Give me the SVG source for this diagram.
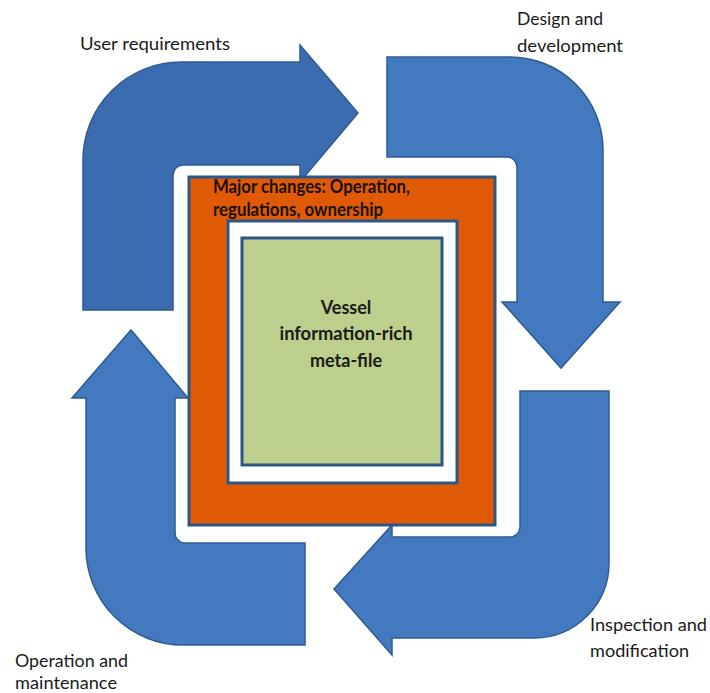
<svg xmlns="http://www.w3.org/2000/svg" width="710" height="693" viewBox="0 0 710 693">
  <style>
    .arrow { fill: #4279bf; stroke: #2f5b92; stroke-width: 1.5; stroke-linejoin: miter; }
    .arrow.dark { fill: #3b6cb0; }
    .frame { stroke: #2d5688; stroke-width: 3; }
    .label { font-family: Lato, "Open Sans", "Liberation Sans", sans-serif; font-size: 17px; fill: #1a1a1a; }
    .band { font-family: Lato, "Open Sans", "Liberation Sans", sans-serif; font-size: 18px; font-weight: bold; fill: #1a1208; }
    .inner { font-family: Lato, "Open Sans", "Liberation Sans", sans-serif; font-size: 18px; font-weight: bold; fill: #1a1a1a; }
  </style>
  <rect width="710" height="693" fill="#ffffff"/>

  <!-- Lifecycle arrows around the central file -->
  <g id="connectors">
    <path id="arrow-user" class="arrow dark" d="M 83 310 L 83 160 A 98 98 0 0 1 181 62 L 300 62 L 300 45 L 358 113 L 300 182 L 300 165 L 183 165 A 10 10 0 0 0 173 175 L 173 310 Z"/>
    <path id="arrow-design" class="arrow" d="M 387 57 L 510 57 A 93 93 0 0 1 603 150 L 603 302 L 620 302 L 561 368 L 502 302 L 517 302 L 517 167 A 10 10 0 0 0 507 157 L 387 157 Z"/>
    <path id="arrow-inspection" class="arrow" d="M 520 391 L 609 391 L 609 563 A 75 75 0 0 1 534 638 L 392 638 L 392 655 L 334 589 L 392 525 L 392 537 L 510 537 A 10 10 0 0 0 520 527 Z"/>
    <path id="arrow-operation" class="arrow" d="M 305 645 L 183 645 A 97 97 0 0 1 86 548 L 86 398 L 72 398 L 131 330 L 188 398 L 175 398 L 175 533 A 10 10 0 0 0 185 543 L 305 543 Z"/>
  </g>

  <!-- Outer band: major changes -->
  <g id="major-changes">
    <rect class="frame" x="189" y="177" width="306" height="348" fill="#e05a06" stroke-width="2.5"/>
    <text class="band" x="213" y="193" textLength="197" lengthAdjust="spacingAndGlyphs">Major changes: Operation,</text>
    <text class="band" x="213" y="216" textLength="170" lengthAdjust="spacingAndGlyphs">regulations, ownership</text>
  </g>

  <!-- White margin ring -->
  <g id="margin">
    <rect class="frame" x="228" y="221" width="229" height="262" fill="#ffffff"/>
  </g>

  <!-- Core: vessel meta-file -->
  <g id="meta-file">
    <rect class="frame" x="242" y="238" width="200" height="227" fill="#bccf8c"/>
    <text class="inner" x="346" y="314" text-anchor="middle">Vessel</text>
    <text class="inner" x="346" y="340" text-anchor="middle" textLength="133" lengthAdjust="spacingAndGlyphs">information-rich</text>
    <text class="inner" x="346" y="367" text-anchor="middle">meta-file</text>
  </g>

  <!-- Stage labels -->
  <g id="label-user">
    <text class="label" x="80" y="50" textLength="150" lengthAdjust="spacingAndGlyphs">User requirements</text>
  </g>
  <g id="label-design">
    <text class="label" x="517" y="25" textLength="86" lengthAdjust="spacingAndGlyphs">Design and</text>
    <text class="label" x="517" y="52" textLength="106" lengthAdjust="spacingAndGlyphs">development</text>
  </g>
  <g id="label-inspection">
    <text class="label" x="590" y="631" textLength="117" lengthAdjust="spacingAndGlyphs">Inspection and</text>
    <text class="label" x="590" y="657" textLength="99" lengthAdjust="spacingAndGlyphs">modification</text>
  </g>
  <g id="label-operation">
    <text class="label" x="15" y="667" textLength="113" lengthAdjust="spacingAndGlyphs">Operation and</text>
    <text class="label" x="15" y="689" textLength="102" lengthAdjust="spacingAndGlyphs">maintenance</text>
  </g>
</svg>
